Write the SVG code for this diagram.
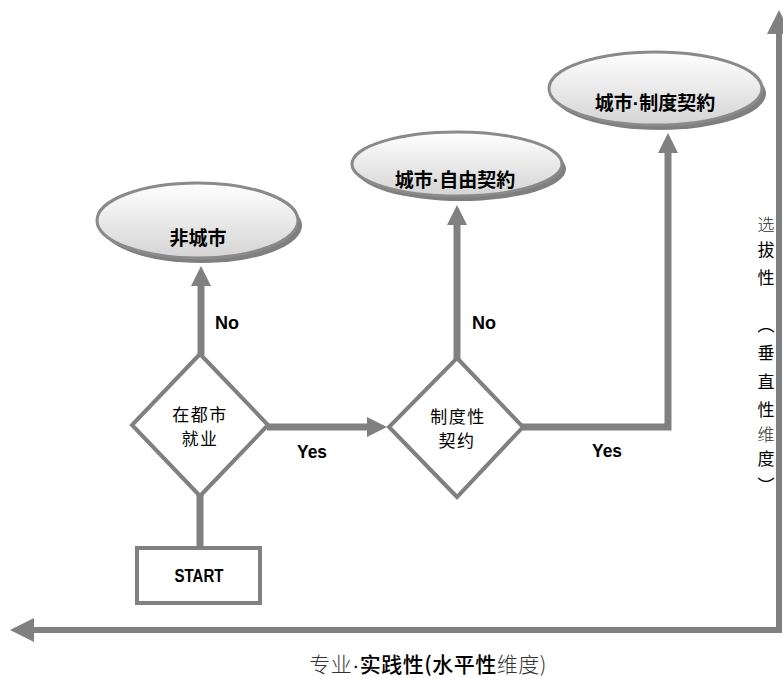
<svg xmlns="http://www.w3.org/2000/svg" width="783" height="678" viewBox="0 0 783 678">
<style>
.shadow{fill:#7f7f7f}
.oval{fill:url(#g);stroke:#8a8a8a;stroke-width:3}
.dia{fill:#fff;stroke:#808080;stroke-width:4}
.box{fill:#fff;stroke:#808080;stroke-width:4}
.conn{fill:none;stroke:#808080;stroke-width:7}
.axis{fill:none;stroke:#808080;stroke-width:6}
.ol{font-family:"Noto Sans CJK JP","Noto Sans CJK SC",sans-serif;font-weight:700;font-size:19px;fill:#000;text-anchor:middle}
.dot{font-family:"Liberation Sans",Arial,sans-serif}
.dl{font-family:"Noto Sans CJK SC",sans-serif;font-size:17px;letter-spacing:1.5px;fill:#000;text-anchor:middle}
.en{font-family:"Liberation Sans",Arial,sans-serif;font-weight:700;font-size:18px;fill:#000;text-anchor:middle}
.vt{font-family:"Noto Sans CJK SC",sans-serif;font-size:17px;fill:#000;text-anchor:middle}
.bt{font-family:"Noto Sans CJK SC",sans-serif;font-size:21px;letter-spacing:0.5px;fill:#000;text-anchor:middle}
.big{font-size:19px}
.thin{font-weight:300;fill:#333}
</style>
<defs>
<linearGradient id="g" x1="0" y1="0" x2="0" y2="1">
<stop offset="0" stop-color="#ffffff"/>
<stop offset="1" stop-color="#d4d4d4"/>
</linearGradient>
<marker id="ah" markerUnits="userSpaceOnUse" markerWidth="20" markerHeight="20" refX="10" refY="10" orient="auto">
<path d="M0,0 L20,10 L0,20 z" fill="#808080"/>
</marker>
<marker id="ax" markerUnits="userSpaceOnUse" markerWidth="24" markerHeight="24" refX="12" refY="12" orient="auto-start-reverse">
<path d="M0,0 L24,12 L0,24 z" fill="#808080"/>
</marker>
</defs>

<g id="connectors">
<line class="conn" x1="200" y1="548" x2="200" y2="494"/>
<line class="conn" x1="201" y1="355" x2="201" y2="276" marker-end="url(#ah)"/>
<line class="conn" x1="267" y1="427" x2="377" y2="427" marker-end="url(#ah)"/>
<line class="conn" x1="457" y1="360" x2="457" y2="215" marker-end="url(#ah)"/>
<path class="conn" d="M522,427 H668 V143" marker-end="url(#ah)"/>
<path class="axis" d="M779,22 V630 H22" marker-start="url(#ax)" marker-end="url(#ax)"/>
<text class="en" x="227" y="329">No</text>
<text class="en" x="484" y="329">No</text>
<text class="en" x="312" y="458" textLength="30" lengthAdjust="spacingAndGlyphs">Yes</text>
<text class="en" x="607" y="457" textLength="30" lengthAdjust="spacingAndGlyphs">Yes</text>
</g>

<g id="node-start">
<rect class="box" x="137" y="548" width="123" height="55"/>
<text class="en big" x="199" y="582" textLength="49" lengthAdjust="spacingAndGlyphs">START</text>
</g>

<g id="node-urban-employment">
<polygon class="dia" points="200,354 268,425 200,496 132,425"/>
<text class="dl" x="200" y="421">在都市</text>
<text class="dl" x="200" y="445">就业</text>
</g>

<g id="node-institutional-contract">
<polygon class="dia" points="457,358 523,427 457,497 389,427"/>
<text class="dl" x="458" y="423">制度性</text>
<text class="dl" x="457" y="447">契约</text>
</g>

<g id="node-non-urban">
<ellipse class="shadow" cx="201.5" cy="225.5" rx="100.5" ry="37.5"/>
<ellipse class="oval" cx="197.5" cy="220.5" rx="100.5" ry="37.5"/>
<text class="ol" x="198" y="245">非城市</text>
</g>

<g id="node-urban-free">
<ellipse class="shadow" cx="461" cy="169" rx="105" ry="32"/>
<ellipse class="oval" cx="457" cy="164" rx="105" ry="32"/>
<text class="ol" x="455" y="187">城市<tspan class="dot">·</tspan>自由契約</text>
</g>

<g id="node-urban-institutional">
<ellipse class="shadow" cx="659.5" cy="93.5" rx="106.5" ry="36.5"/>
<ellipse class="oval" cx="655.5" cy="88.5" rx="106.5" ry="36.5"/>
<text class="ol" x="655" y="110">城市<tspan class="dot">·</tspan>制度契約</text>
</g>

<g id="axis-labels">
<text class="vt thin" x="766" y="231">选</text>
<text class="vt" x="766" y="256">拔</text>
<text class="vt" x="766" y="284">性</text>
<text class="vt" x="766" y="331">︵</text>
<text class="vt" x="766" y="359">垂</text>
<text class="vt" x="766" y="388">直</text>
<text class="vt" x="766" y="416">性</text>
<text class="vt thin" x="766" y="441">维</text>
<text class="vt" x="766" y="465">度</text>
<text class="vt" x="766" y="492">︶</text>
<text class="bt" x="428" y="672"><tspan class="thin">专业</tspan><tspan class="dot">·</tspan><tspan font-weight="500">实践性(水平性</tspan><tspan class="thin">维度)</tspan></text>
</g>
</svg>
